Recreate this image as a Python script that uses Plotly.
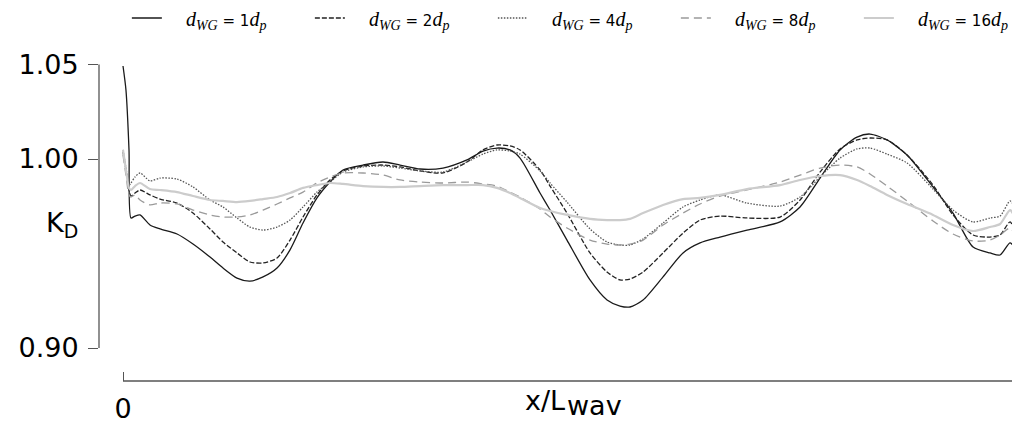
import plotly.graph_objects as go

# x/L_wav positions (shared by all series)
x_pos = [0.0, 0.0033, 0.0067, 0.0089, 0.0134, 0.0190, 0.0301, 0.0413, 0.0603, 0.0781,
         0.0971, 0.1116, 0.1272, 0.1417, 0.1563, 0.1719, 0.1864, 0.2009, 0.2165, 0.2310,
         0.2455, 0.2679, 0.2902, 0.3092, 0.3315, 0.3571, 0.3839, 0.4018, 0.4174, 0.4319,
         0.4431, 0.4654, 0.4766, 0.4955, 0.5212, 0.5402, 0.5547, 0.5658, 0.5804, 0.6027,
         0.6250, 0.6440, 0.6663, 0.6964, 0.7333, 0.7556, 0.7779, 0.8002, 0.8192, 0.8337,
         0.8527, 0.8750, 0.9040, 0.9263, 0.9487, 0.9676, 0.9788, 0.9900, 0.9955, 0.9989, 1.0]

k_1dp = [1.0492, 1.0365, 1.0048, 0.9688, 0.9698, 0.9704, 0.9651, 0.9630, 0.9603, 0.9550,
         0.9481, 0.9423, 0.9370, 0.9354, 0.9376, 0.9423, 0.9519, 0.9661, 0.9794, 0.9878,
         0.9942, 0.9968, 0.9984, 0.9968, 0.9947, 0.9952, 0.9995, 1.0042, 1.0058, 1.0048,
         1.0005, 0.9820, 0.9730, 0.9571, 0.9360, 0.9254, 0.9222, 0.9217, 0.9254, 0.9376,
         0.9503, 0.9556, 0.9587, 0.9624, 0.9667, 0.9746, 0.9899, 1.0048, 1.0116, 1.0132,
         1.0101, 1.0021, 0.9852, 0.9714, 0.9534, 0.9503, 0.9492, 0.9556, 0.9519, 0.9434, 0.9434]

k_2dp = [1.0037, 0.9942, 0.9836, 0.9804, 0.9820, 0.9836, 0.9810, 0.9788, 0.9767, 0.9714,
         0.9630, 0.9561, 0.9503, 0.9455, 0.9450, 0.9476, 0.9571, 0.9693, 0.9810, 0.9889,
         0.9937, 0.9963, 0.9968, 0.9958, 0.9937, 0.9926, 0.9984, 1.0048, 1.0074, 1.0069,
         1.0048, 0.9942, 0.9857, 0.9714, 0.9503, 0.9402, 0.9360, 0.9365, 0.9402, 0.9503,
         0.9608, 0.9677, 0.9698, 0.9688, 0.9693, 0.9783, 0.9931, 1.0053, 1.0101, 1.0111,
         1.0101, 1.0021, 0.9862, 0.9704, 0.9598, 0.9587, 0.9598, 0.9667, 0.9614, 0.9534, 0.9534]

k_4dp = [1.0048, 0.9952, 0.9862, 0.9873, 0.9905, 0.9926, 0.9884, 0.9899, 0.9894, 0.9852,
         0.9783, 0.9746, 0.9688, 0.9640, 0.9624, 0.9640, 0.9677, 0.9746, 0.9825, 0.9878,
         0.9931, 0.9958, 0.9963, 0.9952, 0.9937, 0.9931, 0.9984, 1.0026, 1.0048, 1.0042,
         1.0026, 0.9937, 0.9873, 0.9772, 0.9630, 0.9561, 0.9545, 0.9545, 0.9577, 0.9661,
         0.9746, 0.9783, 0.9810, 0.9767, 0.9751, 0.9799, 0.9905, 1.0005, 1.0053, 1.0058,
         1.0026, 0.9979, 0.9841, 0.9730, 0.9667, 0.9688, 0.9698, 0.9778, 0.9741, 0.9646, 1.0206]

k_8dp = [1.0021, 0.9915, 0.9810, 0.9799, 0.9810, 0.9783, 0.9757, 0.9767, 0.9762, 0.9730,
         0.9704, 0.9693, 0.9693, 0.9704, 0.9730, 0.9762, 0.9794, 0.9825, 0.9873, 0.9905,
         0.9926, 0.9926, 0.9915, 0.9889, 0.9878, 0.9873, 0.9878, 0.9868, 0.9857, 0.9825,
         0.9799, 0.9735, 0.9693, 0.9635, 0.9571, 0.9550, 0.9545, 0.9550, 0.9571, 0.9651,
         0.9714, 0.9762, 0.9804, 0.9836, 0.9878, 0.9915, 0.9952, 0.9968, 0.9958, 0.9921,
         0.9857, 0.9778, 0.9672, 0.9603, 0.9566, 0.9571, 0.9598, 0.9635, 0.9598, 0.9545, 0.9545]

k_16dp = [1.0048, 0.9942, 0.9847, 0.9836, 0.9857, 0.9873, 0.9841, 0.9836, 0.9825, 0.9804,
          0.9783, 0.9778, 0.9772, 0.9778, 0.9788, 0.9799, 0.9820, 0.9847, 0.9862, 0.9873,
          0.9868, 0.9857, 0.9852, 0.9852, 0.9857, 0.9862, 0.9862, 0.9862, 0.9847, 0.9820,
          0.9794, 0.9741, 0.9725, 0.9704, 0.9683, 0.9677, 0.9677, 0.9683, 0.9714, 0.9757,
          0.9788, 0.9794, 0.9810, 0.9841, 0.9862, 0.9889, 0.9910, 0.9915, 0.9889, 0.9857,
          0.9810, 0.9762, 0.9704, 0.9651, 0.9619, 0.9640, 0.9656, 0.9730, 0.9688, 0.9593, 0.9593]

series_names = ["1", "2", "4", "8", "16"]
y_ticks = [0.90, 1.00, 1.05]
y_tick_text = ["0.90", "1.00", "1.05"]
x_ticks = [0, 1]
x_tick_text = ["0", "1"]


def ital(t, size):
    return f'<span style="font-family:Liberation Serif;font-size:{size}px"><i>{t}</i></span>'


def sans(t, size=15):
    return f'<span style="font-family:DejaVu Sans;font-size:{size}px">{t}</span>'


def legend_label(n):
    return (sans('&nbsp;&nbsp;&nbsp;&nbsp;') + ital("d", 20) + '<sub>' + ital("WG", 14) + '</sub>'
            + sans(f' = {n}') + ital("d", 20) + '<sub>' + ital("p", 14) + '</sub>')


styles = [
    dict(color="#1a1a1a", width=1.3, dash="solid"),
    dict(color="#222222", width=1.3, dash="5px,2px"),
    dict(color="#555555", width=1.3, dash="1.5px,1.5px"),
    dict(color="#9a9a9a", width=1.3, dash="8px,5px"),
    dict(color="#cccccc", width=2.2, dash="solid"),
]

fig = go.Figure()
for name, ys, st in zip(series_names, [k_1dp, k_2dp, k_4dp, k_8dp, k_16dp], styles):
    fig.add_trace(go.Scatter(
        x=x_pos, y=ys, mode="lines", name=legend_label(name),
        line=dict(color=st["color"], width=st["width"], dash=st["dash"],
                  shape="spline", smoothing=0.7, simplify=False),
        cliponaxis=False,
    ))

fig.update_layout(
    width=1020, height=425,
    margin=dict(l=91, r=0, t=42, b=52, autoexpand=False),
    paper_bgcolor="white", plot_bgcolor="white",
    font=dict(family="DejaVu Sans", color="black"),
    showlegend=True,
    legend=dict(orientation="h", x=0.0300, xanchor="left", y=1.0967, yanchor="middle",
                font=dict(size=20, family="DejaVu Sans", color="black"),
                entrywidth=138, entrywidthmode="pixels",
                bgcolor="rgba(0,0,0,0)", borderwidth=0, itemwidth=30),
    xaxis=dict(range=[-0.02679, 1.0100], showgrid=False, zeroline=False, showline=False,
               tickvals=x_ticks, ticktext=x_tick_text, ticks="inside", ticklen=9,
               tickcolor="#555555", tickwidth=1.3, ticklabelstandoff=9,
               tickfont=dict(size=27, color="black"), ticklabeloverflow="allow"),
    yaxis=dict(range=[0.88254, 1.05767], showgrid=False, zeroline=False, showline=False,
               tickvals=y_ticks, ticktext=y_tick_text, ticks="outside", ticklen=10,
               tickcolor="#555555", tickwidth=1.3, ticklabelstandoff=4,
               tickfont=dict(size=27, color="black")),
    shapes=[
        dict(type="line", xref="paper", yref="y", x0=0, x1=0, y0=0.90, y1=1.05,
             line=dict(color="#555555", width=1.3)),
        dict(type="line", xref="x", yref="paper", x0=0, x1=1.0100, y0=0, y1=0,
             line=dict(color="#555555", width=1.3)),
    ],
    annotations=[
        dict(text="K<sub>D</sub>", xref="paper", yref="y", x=0, y=0.9651,
             xanchor="right", yanchor="middle", xshift=-19, showarrow=False,
             font=dict(size=27, color="black")),
        dict(text="x/L", xref="x", yref="paper", x=0.4955, y=0, xanchor="right",
             yanchor="middle", yshift=-19, showarrow=False,
             font=dict(size=27, color="black")),
        dict(text="wav", xref="x", yref="paper", x=0.4955, y=0, xanchor="left",
             yanchor="middle", yshift=-24, xshift=-2, showarrow=False,
             font=dict(size=27, color="black")),
    ],
)

fig.write_html("out.html")
